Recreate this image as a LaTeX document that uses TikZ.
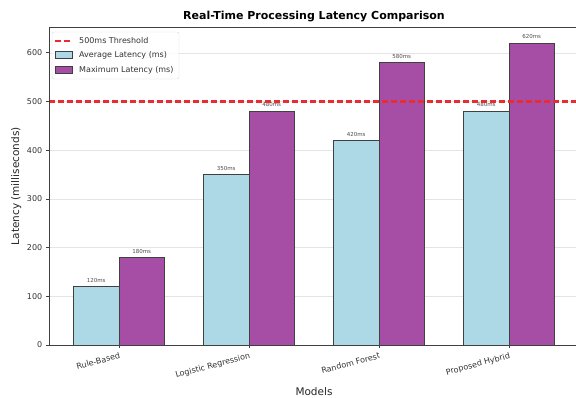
\documentclass[tikz,border=0pt]{standalone}
\usepackage{fontspec}
\setmainfont{DejaVu Sans}
\definecolor{avgblue}{RGB}{173,216,230}
\definecolor{maxpurple}{RGB}{166,77,166}
\definecolor{limitred}{RGB}{232,45,50}
\definecolor{gridgray}{RGB}{228,228,228}
\usetikzlibrary{positioning}

\begin{document}
\begin{tikzpicture}[x=130pt, y=0.487pt,
    avgbar/.style={draw=black!75, line width=0.6pt, fill=avgblue},
    maxbar/.style={draw=black!75, line width=0.6pt, fill=maxpurple},
    threshold/.style={draw=limitred, line width=2.3pt, dash pattern=on 6pt off 3pt},
    gridline/.style={draw=gridgray, line width=0.5pt},
    valuelabel/.style={font=\fontsize{5.5}{6}\selectfont, text=black!70, inner sep=1pt, anchor=south, yshift=3pt},
    ticklabel/.style={font=\fontsize{8}{9}\selectfont, text=black!80, inner sep=0pt},
    legendtext/.style={font=\fontsize{8}{9}\selectfont, text=black!80, inner sep=0pt, anchor=west},
    axislabel/.style={font=\fontsize{10.5}{12}\selectfont, text=black!85}
  ]
    \useasboundingbox (-119pt,-53pt) rectangle (457pt,345pt);

    % grid
    \foreach \v in {100,200,...,600}
      \draw[gridline] (-0.535,\v) -- (3.535,\v);

    % bars
    \draw[avgbar] (-0.35,0) rectangle (0,120);
    \draw[maxbar] (0,0) rectangle (0.35,180);
    \draw[avgbar] (0.65,0) rectangle (1,350);
    \draw[maxbar] (1,0) rectangle (1.35,480);
    \draw[avgbar] (1.65,0) rectangle (2,420);
    \draw[maxbar] (2,0) rectangle (2.35,580);
    \draw[avgbar] (2.65,0) rectangle (3,480);
    \draw[maxbar] (3,0) rectangle (3.35,620);

    % value labels
    \node[valuelabel] (rbavg) at (-0.175,120) {120ms};
    \node[valuelabel] (rbmax) at (0.175,180) {180ms};
    \node[valuelabel] (lravg) at (0.825,350) {350ms};
    \node[valuelabel] (lrmax) at (1.175,480) {480ms};
    \node[valuelabel] (rfavg) at (1.825,420) {420ms};
    \node[valuelabel] (rfmax) at (2.175,580) {580ms};
    \node[valuelabel] (phavg) at (2.825,480) {480ms};
    \node[valuelabel] (phmax) at (3.175,620) {620ms};

    % threshold (500ms)
    \draw[threshold] (-0.535,500) -- (3.535,500);

    % axes
    \draw[black!75, line width=0.7pt] (-0.535,0) rectangle (3.535,653);
    \foreach \g in {0,1,2,3}
      \draw[black!75, line width=0.6pt] (\g,0) -- ++(0,-3.5pt);
    \foreach \v in {0,100,...,600} {
      \draw[black!75, line width=0.6pt] (-0.535,\v) -- ++(-3.5pt,0);
      \node[ticklabel, anchor=east] at ([xshift=-7pt]-0.535,\v) {\v};
    }

    \node[ticklabel, rotate=15, anchor=north east] (rb) at ([yshift=-7pt]0,0) {Rule-Based};
    \node[ticklabel, rotate=15, anchor=north east] (lr) at ([yshift=-7pt]1,0) {Logistic Regression};
    \node[ticklabel, rotate=15, anchor=north east] (rf) at ([yshift=-7pt]2,0) {Random Forest};
    \node[ticklabel, rotate=15, anchor=north east] (ph) at ([yshift=-7pt]3,0) {Proposed Hybrid};

    \node[axislabel] (xlab) at (1.5,-96) {Models};
    \node[axislabel, rotate=90] (ylab) at (-0.79,326) {Latency (milliseconds)};
    \node[font=\fontsize{11}{13}\selectfont\bfseries] (title) at (1.5,674) {Real-Time Processing Latency Comparison};

    % legend
    \draw[black!15, fill=white, fill opacity=0.85, rounded corners=2pt] (-67pt,266pt) rectangle (60pt,313pt);
    \draw[threshold] (-64pt,304pt) -- (-47pt,304pt);
    \draw[avgbar] (-64pt,286.5pt) rectangle (-47pt,293.5pt);
    \draw[maxbar] (-64pt,271.5pt) rectangle (-47pt,278.5pt);
    \node[legendtext] (lgthr) at (-40pt,304pt) {500ms Threshold};
    \node[legendtext] (lgavg) at (-40pt,290pt) {Average Latency (ms)};
    \node[legendtext] (lgmax) at (-40pt,275pt) {Maximum Latency (ms)};
  \end{tikzpicture}
\end{document}
